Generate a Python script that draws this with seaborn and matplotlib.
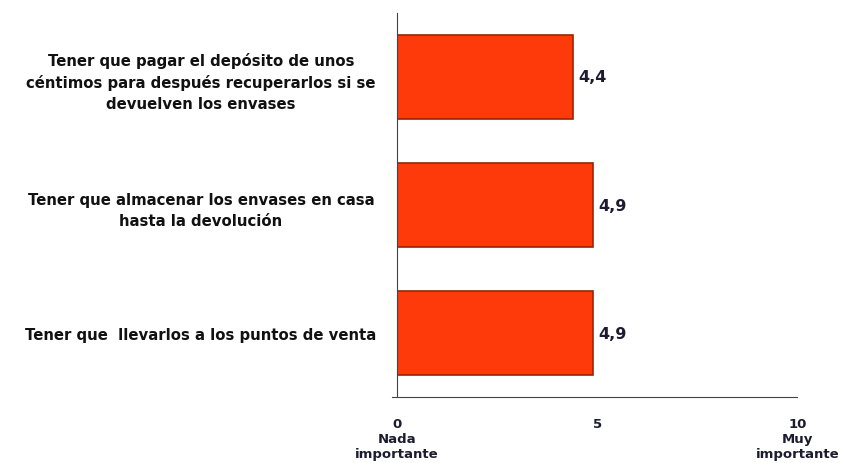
import pandas as pd
import matplotlib.pyplot as plt
import seaborn as sns

categories = [
    'Tener que pagar el depósito de unos\ncéntimos para después recuperarlos si se\ndevuelven los envases',
    'Tener que almacenar los envases en casa\nhasta la devolución',
    'Tener que  llevarlos a los puntos de venta',
]
values = [4.4, 4.9, 4.9]
value_labels = ['4,4', '4,9', '4,9']
xtick_vals = [0, 5, 10]
xtick_labels = ['0\nNada\nimportante', '5', '10\nMuy\nimportante']

df = pd.DataFrame({'motivo': categories, 'valor': values})

sns.set_style('white')
plt.rcParams['font.family'] = ['DejaVu Sans']

fig = plt.figure(figsize=(8.41, 4.64), dpi=100)
ax = fig.add_axes([0.472, 0.142, 0.476, 0.828])
sns.barplot(data=df, x='valor', y='motivo', color='#ff3a0a', saturation=1,
            width=0.66, edgecolor='#9a2408', linewidth=1.2, ax=ax)

for i, (v, lab) in enumerate(zip(values, value_labels)):
    ax.text(v + 0.12, i, lab, va='center', ha='left', fontsize=11.5,
            fontweight='bold', color='#1c1c30')

ax.set_xlim(0, 10)
ax.set_ylim(2.5, -0.5)
ax.set_xticks(xtick_vals)
ax.set_xticklabels(xtick_labels, fontsize=9.5, fontweight='bold', color='#1c1c30',
                   linespacing=1.2, va='top')
ax.tick_params(axis='x', length=5, width=1, color='#444444', direction='out', pad=9)
ax.tick_params(axis='y', length=0, pad=20)
for t in ax.get_yticklabels():
    t.set_fontsize(10.7)
    t.set_fontweight('bold')
    t.set_ha('center')
    t.set_multialignment('center')
    t.set_linespacing(1.5)
    t.set_color('#111111')
    t.set_x(-0.42)
ax.set_xlabel('')
ax.set_ylabel('')
sns.despine(ax=ax)
ax.spines['left'].set_color('#444444')
ax.spines['bottom'].set_color('#444444')
ax.spines['bottom'].set_bounds(-0.12, 10)

fig.savefig('out.png', dpi=100)
